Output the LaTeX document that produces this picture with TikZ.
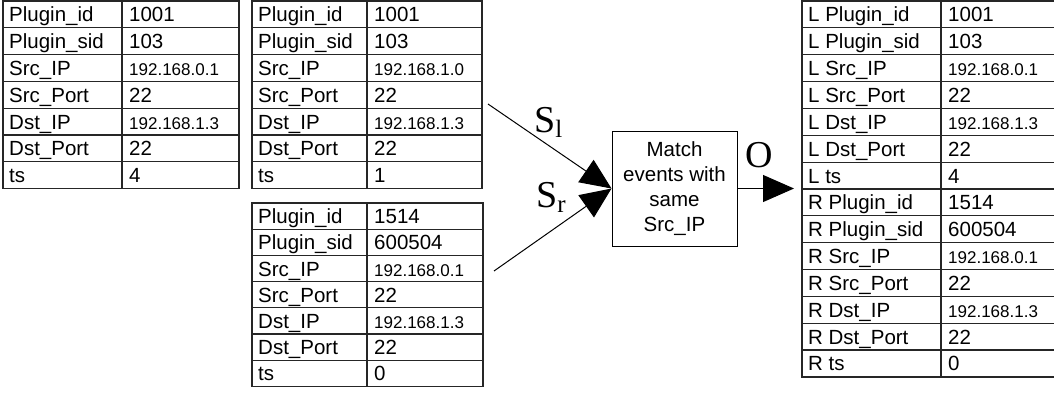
\documentclass[tikz,border=0pt]{standalone}
\usepackage{fontspec}
\setmainfont{Liberation Sans}
\newfontfamily\serifrm{Liberation Serif}
\usetikzlibrary{arrows.meta}

\tikzset{
  grid/.style={draw=black!85, line width=1.2pt},
  key/.style={anchor=base west, inner sep=0pt, font=\fontsize{20.5}{20.5}\selectfont},
  val/.style={key},
  ip/.style={anchor=base west, inner sep=0pt, font=\fontsize{17}{17}\selectfont},
  procbox/.style={draw, line width=1pt, minimum width=125pt, minimum height=115pt,
    align=center, inner sep=0pt, font=\fontsize{20.5}{25}\selectfont},
  conn/.style={line width=1pt, -{Triangle[length=31pt,width=27pt]}},
  streamlbl/.style={anchor=base west, inner sep=0pt},
}

% #1 name, #2 left x, #3 divider x, #4 right x, #5 top y, #6 row height, #7 rows key/value/style
\newcommand\eventtable[7]{%
  \foreach[count=\i] \k/\v/\f in {#7} {
    \draw[grid] ({#2},{#5+(\i-1)*#6}) rectangle ({#4},{#5+\i*#6});
    \draw[grid] ({#3},{#5+(\i-1)*#6}) -- ({#3},{#5+\i*#6});
    \node[key] (#1-k\i) at ({#2+6},{#5+(\i-0.5)*#6+7.5}) {\k};
    \node[\f] (#1-v\i) at ({#3+7},{#5+(\i-0.5)*#6+7.5}) {\v};
  }%
}

\begin{document}
\begin{tikzpicture}[x=1pt, y=-1pt]
  \clip (0,0) rectangle (1054,392);

  % left stream, earlier event
  \eventtable{ta}{3}{122}{239}{1}{26.8}{Plugin\_id/1001/val, Plugin\_sid/103/val,
    Src\_IP/192.168.0.1/ip, Src\_Port/22/val, Dst\_IP/192.168.1.3/ip,
    Dst\_Port/22/val, ts/4/val}
  % left stream, current event
  \eventtable{tb}{252}{367}{482}{1}{26.8}{Plugin\_id/1001/val, Plugin\_sid/103/val,
    Src\_IP/192.168.1.0/ip, Src\_Port/22/val, Dst\_IP/192.168.1.3/ip,
    Dst\_Port/22/val, ts/1/val}
  % right stream event
  \eventtable{tc}{252}{367}{483}{203}{26.2}{Plugin\_id/1514/val, Plugin\_sid/600504/val,
    Src\_IP/192.168.0.1/ip, Src\_Port/22/val, Dst\_IP/192.168.1.3/ip,
    Dst\_Port/22/val, ts/0/val}
  % joined output event
  \eventtable{td}{802}{941}{1060}{1}{26.85}{L Plugin\_id/1001/val, L Plugin\_sid/103/val,
    L Src\_IP/192.168.0.1/ip, L Src\_Port/22/val, L Dst\_IP/192.168.1.3/ip,
    L Dst\_Port/22/val, L ts/4/val,
    R Plugin\_id/1514/val, R Plugin\_sid/600504/val,
    R Src\_IP/192.168.0.1/ip, R Src\_Port/22/val, R Dst\_IP/192.168.1.3/ip,
    R Dst\_Port/22/val, R ts/0/val}

  % join operator
  \node[procbox] (match) at (674.5,188.5) {Match\\events with\\same\\Src\_IP};

  \coordinate (sl) at (488,104);
  \coordinate (sr) at (494,271);
  \coordinate (out) at (794,188.5);

  \draw[conn] (sl) -- (match.west);
  \draw[conn] (sr) -- (match.west);
  \draw[conn] (match.east) -- (out);

  \node[streamlbl] (lbl-sl) at (534,132)
    {\serifrm\fontsize{38}{38}\selectfont S\fontsize{25}{25}\selectfont\raisebox{-5pt}{l}};
  \node[streamlbl] (lbl-sr) at (536,207)
    {\serifrm\fontsize{38}{38}\selectfont S\fontsize{25}{25}\selectfont\raisebox{-5pt}{r}};
  \node[streamlbl] (lbl-o) at (745,167)
    {\serifrm\fontsize{38}{38}\selectfont O};
\end{tikzpicture}
\end{document}
